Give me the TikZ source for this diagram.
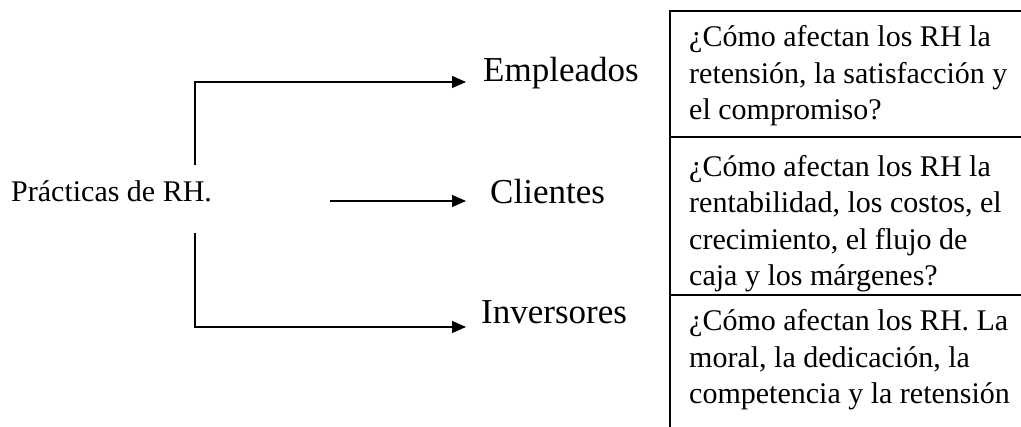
\documentclass[tikz,border=0pt]{standalone}
\usepackage{fontspec}
\setmainfont{Liberation Serif}
\usetikzlibrary{arrows.meta, positioning}

\begin{document}
\begin{tikzpicture}[x=1pt, y=-1pt,
        linea/.style={line width=1.2pt},
        flecha/.style={linea, -{Triangle[length=14pt, width=12pt]}},
        grupo/.style={inner sep=0pt, anchor=base west, font=\fontsize{35}{40}\selectfont},
        pregunta/.style={inner sep=0pt, anchor=base west, align=left, font=\fontsize{30}{36.5}\selectfont}]
        \useasboundingbox (0,0) rectangle (1021,427);
        % Texto de la izquierda
        \node[inner sep=0pt, anchor=base west, font=\fontsize{30}{34}\selectfont] (prac) at (11,202) {Prácticas de RH.};
        % Grupos
        \node[grupo] (emp) at (483,82) {Empleados};
        \node[grupo] (cli) at (490,204) {Clientes};
        \node[grupo] (inv) at (481,324) {Inversores};
        % Puntos de salida
        \coordinate (arribaP) at (195,165);
        \coordinate (medioP) at (330,201);
        \coordinate (abajoP) at (195,233);
        % Flechas
        \draw[flecha] (arribaP) |- ([xshift=-17pt]emp.base west);
        \draw[flecha] (medioP) -- ([xshift=-24pt, yshift=3pt]cli.base west);
        \draw[flecha] (abajoP) |- ([xshift=-15pt, yshift=-3pt]inv.base west);
        % Tabla de la derecha (la base es la de la ultima linea)
        \draw[linea] (1021,11) -- (670,11) -- (670,427);
        \draw[linea] (670,137) -- (1021,137);
        \draw[linea] (670,295) -- (1021,295);
        \node[pregunta] (preg1) at (689,120) {¿Cómo afectan los RH la\\retensión, la satisfacción y\\el compromiso?};
        \node[pregunta] (preg2) at (689,286) {¿Cómo afectan los RH la\\rentabilidad, los costos, el\\crecimiento, el flujo de\\caja y los márgenes?};
        \node[pregunta] (preg3) at (689,404) {¿Cómo afectan los RH. La\\moral, la dedicación, la\\competencia y la retensión};
    \end{tikzpicture}
\end{document}
